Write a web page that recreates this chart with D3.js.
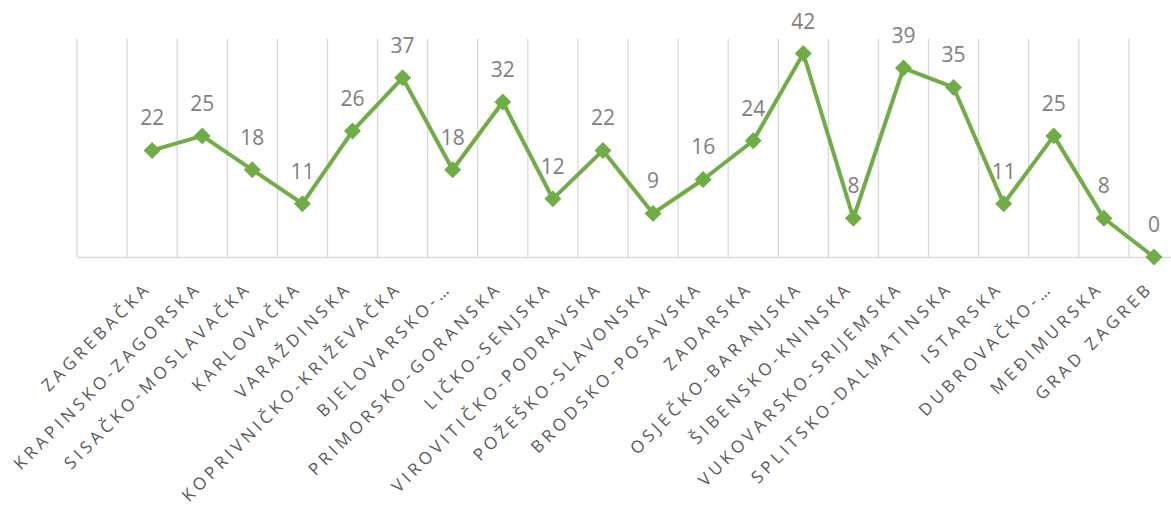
<!DOCTYPE html>
<html>
<head>
<meta charset="utf-8">
<script src="https://cdn.jsdelivr.net/npm/d3@7"></script>
<style>
  body { margin: 0; background: #fff; overflow: hidden; }
</style>
</head>
<body>
<div id="chart"></div>
<script>
// counties (first slot is an empty category in the source chart)
var counties = ["", "ZAGREBAČKA", "KRAPINSKO-ZAGORSKA", "SISAČKO-MOSLAVAČKA", "KARLOVAČKA",
    "VARAŽDINSKA", "KOPRIVNIČKO-KRIŽEVAČKA", "BJELOVARSKO-…", "PRIMORSKO-GORANSKA",
    "LIČKO-SENJSKA", "VIROVITIČKO-PODRAVSKA", "POŽEŠKO-SLAVONSKA", "BRODSKO-POSAVSKA",
    "ZADARSKA", "OSJEČKO-BARANJSKA", "ŠIBENSKO-KNINSKA", "VUKOVARSKO-SRIJEMSKA",
    "SPLITSKO-DALMATINSKA", "ISTARSKA", "DUBROVAČKO-…", "MEĐIMURSKA", "GRAD ZAGREB"];
var values = [null, 22, 25, 18, 11, 26, 37, 18, 32, 12, 22, 9, 16, 24, 42, 8, 39, 35, 11, 25, 8, 0];
var yMax = 45;

var width = 1171, height = 507;

var svg = d3.select("#chart")
    .append("svg")
    .attr("width", width)
    .attr("height", height);

var x = d3.scaleBand()
    .domain(d3.range(counties.length))
    .range([77, 1179])
    .padding(0);

var y = d3.scaleLinear()
    .domain([0, yMax])
    .range([257, 39]);

// vertical gridlines between categories
var bounds = d3.range(counties.length).map(function (i) { return x(i); });
svg.selectAll("line.grid")
    .data(bounds)
    .enter()
    .append("line")
    .attr("class", "grid")
    .attr("x1", function (d) { return d; })
    .attr("x2", function (d) { return d; })
    .attr("y1", y(yMax))
    .attr("y2", y(0))
    .attr("stroke", "#d9d9d9")
    .attr("stroke-width", 1.3);

// category axis
var xAxis = svg.append("g")
    .attr("transform", "translate(0," + y(0) + ")")
    .call(d3.axisBottom(x).tickSize(0).tickFormat(function (i) { return counties[i]; }));

xAxis.select(".domain")
    .attr("stroke", "#d9d9d9")
    .attr("stroke-width", 1.3);

xAxis.selectAll("text")
    .attr("font-family", "'Open Sans', sans-serif")
    .attr("font-size", 17)
    .attr("letter-spacing", "4px")
    .attr("fill", "#595959")
    .attr("text-anchor", "end")
    .attr("dy", 0)
    .attr("transform", "translate(-2,30) rotate(-45)");

// line
var pts = values.map(function (v, i) { return { i: i, v: v }; })
    .filter(function (d) { return d.v !== null; });

var line = d3.line()
    .x(function (d) { return x(d.i) + x.bandwidth() / 2; })
    .y(function (d) { return y(d.v); });

svg.append("path")
    .datum(pts)
    .attr("d", line)
    .attr("fill", "none")
    .attr("stroke", "#70ad47")
    .attr("stroke-width", 4)
    .attr("stroke-linejoin", "round");

// diamond markers
svg.selectAll("rect.marker")
    .data(pts)
    .enter()
    .append("rect")
    .attr("class", "marker")
    .attr("x", -6)
    .attr("y", -6)
    .attr("width", 12)
    .attr("height", 12)
    .attr("fill", "#70ad47")
    .attr("transform", function (d) {
        return "translate(" + (x(d.i) + x.bandwidth() / 2) + "," + y(d.v) + ") rotate(45)";
    });

// data labels
svg.selectAll("text.lbl")
    .data(pts)
    .enter()
    .append("text")
    .attr("class", "lbl")
    .attr("x", function (d) { return x(d.i) + x.bandwidth() / 2; })
    .attr("y", function (d) { return y(d.v) - 25; })
    .attr("text-anchor", "middle")
    .attr("font-family", "'Open Sans', sans-serif")
    .attr("font-size", 21)
    .attr("fill", "#7f7f7f")
    .text(function (d) { return d.v; });
</script>
</body>
</html>
